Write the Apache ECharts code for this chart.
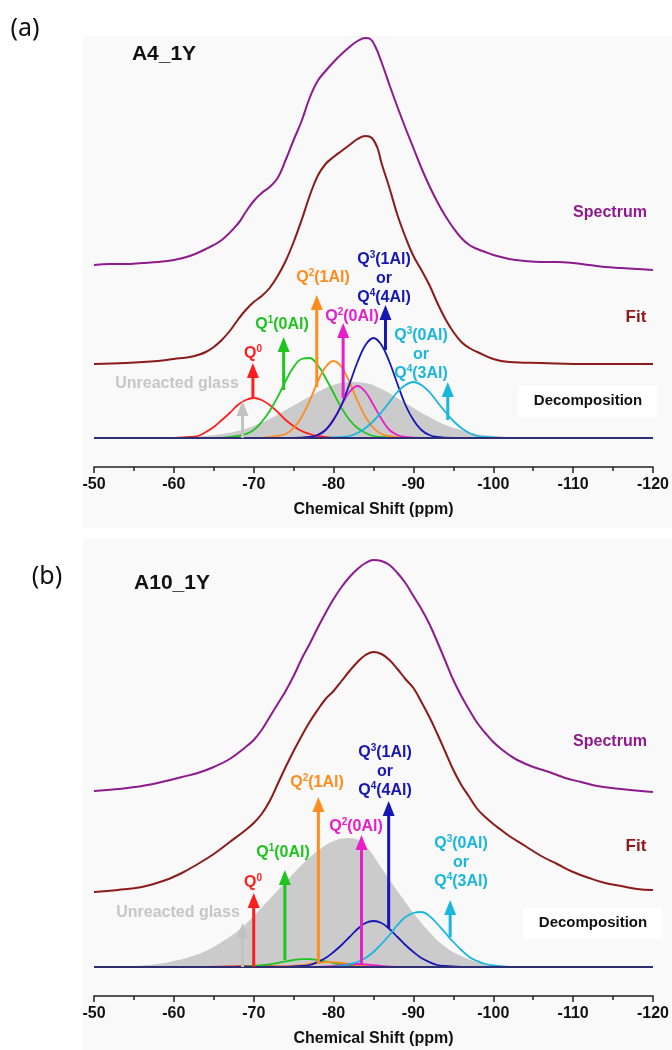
<!DOCTYPE html>
<html>
<head>
<meta charset="utf-8">
<title>29Si NMR decomposition A4_1Y / A10_1Y</title>
<script src="https://cdn.jsdelivr.net/npm/echarts@6/dist/echarts.min.js"></script>
<style>
  html, body { margin: 0; padding: 0; background: #fff; }
  #chart { width: 672px; height: 1050px; }
</style>
</head>
<body>
<div id="chart"></div>
<script>
// chemical shift axis (ppm), drawn reversed
var xMin = -120
var xMax = -50
var xStep = 10

// ---- panel (a) A4_1Y : [ppm, intensity] ----
var spectrumA = [[-50,173],[-52,174],[-54,174],[-56,175],[-58,176],[-60,178],[-62,182],[-64,189],[-66,198],[-68,214],[-69,226],[-70,237],[-71,245],[-72,251],[-73,260],[-74,278],[-75,298],[-76,317],[-77,340],[-78,357],[-79,367],[-80,376],[-81,384],[-82,391],[-83,397],[-84,400],[-84.6,399],[-85.2,392],[-86,376],[-87,353],[-88,331],[-89,310],[-90,290],[-91,270],[-92,252],[-93,236],[-94,222],[-95,210],[-96,200],[-97,193],[-98,189],[-99,186],[-100,183],[-102,179],[-104,177],[-106,176],[-108,176],[-110,175],[-112,173],[-114,171],[-116,170],[-118,169],[-120,168]]
var fitA = [[-50,74],[-54,75],[-58,77],[-60,79],[-62,81],[-63,83],[-64,86],[-65,91],[-66,98],[-67,107],[-68,118],[-69,128],[-70,136],[-71,142],[-72,150],[-73,162],[-74,177],[-75,196],[-76,218],[-77,242],[-78,262],[-79,274],[-80,281],[-81,287],[-82,293],[-83,299],[-84,302],[-84.8,300],[-85.5,290],[-86,275],[-87,250],[-88,223],[-89,201],[-90,182],[-91,168],[-92,153],[-93,135],[-94,119],[-95,106],[-96,96],[-97,90],[-98,86],[-100,79],[-102,76],[-106,75],[-112,74],[-120,74]]
var glassA = [[-60,0],[-62,1],[-64,2],[-66,4],[-68,7],[-70,12],[-72,19],[-74,28],[-76,37],[-78,46],[-80,53],[-82,56],[-84,55],[-86,49],[-88,40],[-90,30],[-92,21],[-94,13],[-96,8],[-98,4],[-100,2],[-102,1],[-104,0]]
var q0A = [[-60,0],[-62,1],[-63,2],[-64,6],[-65,11],[-66,18],[-67,25],[-68,33],[-69,38],[-70,40],[-71,38],[-72,33],[-73,26],[-74,18],[-75,12],[-76,7],[-77,4],[-78,2],[-80,0]]
var q1A = [[-66,0],[-68,2],[-69,4],[-70,8],[-71,16],[-72,27],[-73,41],[-74,57],[-75,71],[-76,79],[-77,80],[-78,73],[-79,60],[-80,45],[-81,30],[-82,18],[-83,10],[-84,5],[-85,2],[-86,1],[-88,0]]
var q21A = [[-71,0],[-73,2],[-74,4],[-75,10],[-76,21],[-77,37],[-78,56],[-79,71],[-80,77],[-81,71],[-82,56],[-83,37],[-84,21],[-85,10],[-86,4],[-87,2],[-89,0]]
var q20A = [[-75,0],[-77,1],[-78,3],[-79,8],[-80,19],[-81,33],[-82,46],[-83,52],[-84,46],[-85,33],[-86,19],[-87,8],[-88,3],[-89,1],[-91,0]]
var q31A = [[-75,0],[-77,1],[-78,3],[-79,8],[-80,18],[-81,33],[-82,54],[-83,76],[-84,93],[-85,100],[-86,93],[-87,76],[-88,54],[-89,33],[-90,18],[-91,8],[-92,3],[-93,1],[-95,0]]
var q30A = [[-79,0],[-81,1],[-82,2],[-83,5],[-84,10],[-85,17],[-86,26],[-87,36],[-88,46],[-89,53],[-90,56],[-91,53],[-92,46],[-93,36],[-94,26],[-95,17],[-96,10],[-97,5],[-98,2],[-99,1],[-101,0]]
// arrows: position, foot, tip
var arrowPpmA = [-68.6, -69.9, -73.75, -77.9, -81.2, -86.5, -94.3]
var arrowFromA = [0, 40, 48, 51, 40, 88, 18]
var arrowToA = [37, 75, 101, 143, 115, 133, 56]

// ---- panel (b) A10_1Y ----
var spectrumB = [[-50,176],[-53,178],[-56,181],[-59,186],[-61,190],[-63,194],[-65,200],[-67,208],[-69,220],[-70,227],[-71,237],[-72,250],[-73,263],[-74,276],[-75,291],[-76,308],[-77,323],[-78,339],[-79,354],[-80,368],[-81,380],[-82,390],[-83,398],[-84,404],[-85,407],[-86,406],[-87,402],[-88,394],[-89,384],[-90,371],[-91,358],[-92,343],[-93,325],[-94,306],[-95,287],[-96,271],[-97,257],[-98,244],[-99,234],[-100,225],[-101,218],[-102,212],[-103,207],[-105,200],[-107,195],[-109,189],[-111,185],[-113,181],[-116,178],[-120,175]]
var fitB = [[-50,75],[-53,77],[-56,80],[-59,87],[-61,94],[-63,103],[-65,113],[-67,125],[-69,137],[-70,144],[-71,153],[-72,166],[-73,183],[-74,200],[-75,216],[-76,231],[-77,245],[-78,257],[-79,268],[-80,276],[-81,286],[-82,296],[-83,305],[-84,312],[-85,315],[-86,313],[-87,307],[-88,298],[-89,288],[-90,279],[-91,265],[-92,250],[-93,233],[-94,215],[-95,197],[-96,182],[-97,170],[-98,158],[-99,150],[-100,143],[-101,137],[-102,131],[-104,121],[-106,111],[-108,103],[-110,95],[-112,89],[-114,84],[-116,81],[-118,78],[-120,77]]
var glassB = [[-52,0],[-54,0.5],[-56,1.5],[-58,3],[-60,6],[-62,10],[-64,16],[-66,25],[-68,36],[-70,51],[-72,68],[-74,85],[-76,102],[-78,116],[-80,126],[-82,129],[-84,121],[-86,99],[-88,76],[-90,54],[-92,35],[-94,20],[-96,11],[-98,5],[-100,2],[-102,0.5],[-104,0]]
var q0B = [[-64,0],[-67,0.5],[-70,1],[-73,0.5],[-76,0]]
var q1B = [[-68,0],[-70,1],[-72,2.6],[-73,4],[-74,5.6],[-75,7],[-76,7.9],[-77,7.9],[-78,7],[-79,5.6],[-80,4],[-81,2.6],[-82,1.5],[-84,0]]
var q21B = [[-72,0],[-74,0.5],[-76,1.9],[-77,3],[-78,4.2],[-79,4.9],[-80,4.9],[-81,4.2],[-82,3],[-83,1.9],[-85,0.5],[-87,0]]
var q20B = [[-77,0],[-78,0.1],[-80,1],[-81,1.8],[-82,2.6],[-83,3],[-84,2.6],[-85,1.8],[-86,1],[-88,0.1],[-89,0]]
var q31B = [[-74,0],[-76,1],[-77,2],[-78,5],[-79,9],[-80,15],[-81,22],[-82,30],[-83,38],[-84,44],[-85,46],[-86,44],[-87,38],[-88,30],[-89,22],[-90,15],[-91,9],[-92,5],[-93,2],[-94,1],[-96,0]]
var q30B = [[-79,0],[-81,1],[-82,3],[-83,5],[-84,9],[-85,15],[-86,23],[-87,32],[-88,42],[-89,50],[-90,54],[-91,55],[-92,51],[-93,43],[-94,34],[-95,25],[-96,17],[-97,10],[-98,6],[-99,3],[-100,1.5],[-102,0]]
var arrowPpmB = [-68.6, -70, -73.9, -78.1, -83.5, -86.9, -94.6]
var arrowFromB = [0, 0, 7, 3, 2, 39, 30]
var arrowToB = [44, 74, 97, 170, 132, 166, 67]

// colours (glass, Q0, Q1, Q2(1Al), Q2(0Al), Q3(1Al), Q3(0Al))
var arrowColors = ['#c2c2c2', '#ff1e1e', '#1fc41f', '#ff8c1f', '#e81ec8', '#1616b4', '#19b6de']
var FONT = 'Liberation Sans, Arial, sans-serif'

var chart = echarts.init(document.getElementById('chart'))

function curve (data, color, idx, width) {
  return {
    type: 'line',
    xAxisIndex: idx,
    yAxisIndex: idx,
    data: data,
    smooth: 0.4,
    symbol: 'none',
    silent: true,
    lineStyle: {color: color, width: width || 1.8}
  }
}

function glass (data, idx) {
  return {
    type: 'line',
    xAxisIndex: idx,
    yAxisIndex: idx,
    data: data,
    smooth: 0.4,
    symbol: 'none',
    silent: true,
    z: 1,
    lineStyle: {width: 0},
    areaStyle: {color: '#cbcbcb', opacity: 1}
  }
}

function arrows (ppm, from, to, idx) {
  var data = ppm.map(function (p, i) { return [p, from[i], to[i], i] })
  return {
    type: 'custom',
    xAxisIndex: idx,
    yAxisIndex: idx,
    data: data,
    silent: true,
    z: 4,
    encode: {x: 0, y: [1, 2]},
    renderItem: function (params, api) {
      var foot = api.coord([api.value(0), api.value(1)])
      var tip = api.coord([api.value(0), api.value(2)])
      var color = arrowColors[api.value(3)]
      var hw = 6, hh = 15
      return {
        type: 'group',
        children: [{
          type: 'line',
          shape: {x1: foot[0], y1: foot[1], x2: tip[0], y2: tip[1] + hh - 1},
          style: {stroke: color, lineWidth: 3}
        }, {
          type: 'polygon',
          shape: {points: [[tip[0], tip[1]], [tip[0] - hw, tip[1] + hh], [tip[0] + hw, tip[1] + hh]]},
          style: {fill: color}
        }]
      }
    }
  }
}

function panelSeries (d, idx) {
  return [
    glass(d.glass, idx),
    curve(d.q0, '#ff1e1e', idx),
    curve(d.q1, '#1fc41f', idx),
    curve(d.q21, '#ff8c1f', idx),
    curve(d.q20, '#e81ec8', idx),
    curve(d.q31, '#1616b4', idx),
    curve(d.q30, '#19b6de', idx),
    curve([[xMax, 0], [xMin, 0]], '#2e2e72', idx, 1.8),
    curve(d.fit, '#8b1a1a', idx, 2),
    curve(d.spectrum, '#8e1b8e', idx, 2),
    arrows(d.ppm, d.from, d.to, idx)
  ]
}

function xAxisFor (idx) {
  return {
    type: 'value',
    gridIndex: idx,
    min: xMin,
    max: xMax,
    interval: xStep,
    inverse: true,
    name: 'Chemical Shift (ppm)',
    nameLocation: 'middle',
    nameGap: 35,
    nameTextStyle: {fontFamily: FONT, fontWeight: 'bold', fontSize: 16, color: '#111'},
    axisLine: {onZero: false, lineStyle: {color: '#222', width: 1.5}},
    axisTick: {length: 6, lineStyle: {color: '#222', width: 1.5}},
    minorTick: {show: true, splitNumber: 2, length: 4, lineStyle: {color: '#222', width: 1.5}},
    splitLine: {show: false},
    axisLabel: {fontFamily: FONT, fontWeight: 'bold', fontSize: 16, color: '#111', margin: 10}
  }
}

function txt (x, y, text, color, size, extra) {
  var s = {
    text: text, x: 0, y: 0, fill: color,
    fontFamily: FONT, fontWeight: 'bold', fontSize: size,
    align: 'center', verticalAlign: 'middle', lineHeight: 19,
    rich: {sup: {fontFamily: FONT, fontWeight: 'bold', fontSize: 10, fill: color, verticalAlign: 'top', lineHeight: 12}}
  }
  if (extra) Object.assign(s, extra)
  return {type: 'text', x: x, y: y, z: 20, style: s}
}

function labels (L) {
  return [
    txt(L.q0[0], L.q0[1], 'Q{sup|0}', '#ff1e1e', 16),
    txt(L.q1[0], L.q1[1], 'Q{sup|1}(0Al)', '#1fc41f', 16),
    txt(L.q21[0], L.q21[1], 'Q{sup|2}(1Al)', '#ff8c1f', 16),
    txt(L.q20[0], L.q20[1], 'Q{sup|2}(0Al)', '#e81ec8', 16),
    txt(L.q31[0], L.q31[1], 'Q{sup|3}(1Al)\nor\nQ{sup|4}(4Al)', '#1616b4', 16),
    txt(L.q30[0], L.q30[1], 'Q{sup|3}(0Al)\nor\nQ{sup|4}(3Al)', '#19b6de', 16),
    txt(L.glass[0], L.glass[1], 'Unreacted glass', '#c6c6c6', 16),
    txt(610, L.spec, 'Spectrum', '#8e1b8e', 16),
    txt(636, L.fit, 'Fit', '#8b1a1a', 17),
    {type: 'rect', z: 15, shape: {x: L.box[0], y: L.box[1], width: 139, height: 31}, style: {fill: '#ffffff'}},
    txt(L.box[0] + 70, L.box[1] + 15, 'Decomposition', '#111', 15)
  ]
}

var graphics = [
  {type: 'rect', z: -10, shape: {x: 83, y: 36, width: 589, height: 492}, style: {fill: '#f9f9f9'}},
  {type: 'rect', z: -10, shape: {x: 83, y: 538, width: 589, height: 512}, style: {fill: '#f9f9f9'}},
  {type: 'text', x: 25, y: 29, z: 20, style: {text: '(a)', fill: '#111', fontFamily: 'Noto Sans, sans-serif', fontSize: 25, align: 'center', verticalAlign: 'middle'}},
  {type: 'text', x: 47, y: 577, z: 20, style: {text: '(b)', fill: '#111', fontFamily: 'Noto Sans, sans-serif', fontSize: 25, align: 'center', verticalAlign: 'middle'}},
  txt(164, 54, 'A4_1Y', '#111', 21),
  txt(172, 583, 'A10_1Y', '#111', 21)
].concat(labels({
  q0: [253, 354], q1: [282, 325], q21: [323, 278], q20: [352, 317],
  q31: [384, 279], q30: [421, 355], glass: [177, 384],
  spec: 213, fit: 317, box: [518, 386]
})).concat(labels({
  q0: [253, 883], q1: [283, 853], q21: [317, 783], q20: [356, 827],
  q31: [385, 772], q30: [461, 863], glass: [178, 913],
  spec: 742, fit: 846, box: [523, 908]
}))

var option = {
  animation: false,
  backgroundColor: '#ffffff',
  grid: [
    {left: 94, width: 560, top: 30, height: 437},
    {left: 94, width: 560, top: 538, height: 458}
  ],
  xAxis: [xAxisFor(0), xAxisFor(1)],
  yAxis: [
    {type: 'value', gridIndex: 0, min: -29, max: 408, show: false},
    {type: 'value', gridIndex: 1, min: -29, max: 429, show: false}
  ],
  graphic: graphics,
  series: panelSeries({
    spectrum: spectrumA, fit: fitA, glass: glassA,
    q0: q0A, q1: q1A, q21: q21A, q20: q20A, q31: q31A, q30: q30A,
    ppm: arrowPpmA, from: arrowFromA, to: arrowToA
  }, 0).concat(panelSeries({
    spectrum: spectrumB, fit: fitB, glass: glassB,
    q0: q0B, q1: q1B, q21: q21B, q20: q20B, q31: q31B, q30: q30B,
    ppm: arrowPpmB, from: arrowFromB, to: arrowToB
  }, 1))
}

chart.setOption(option)
</script>
</body>
</html>
